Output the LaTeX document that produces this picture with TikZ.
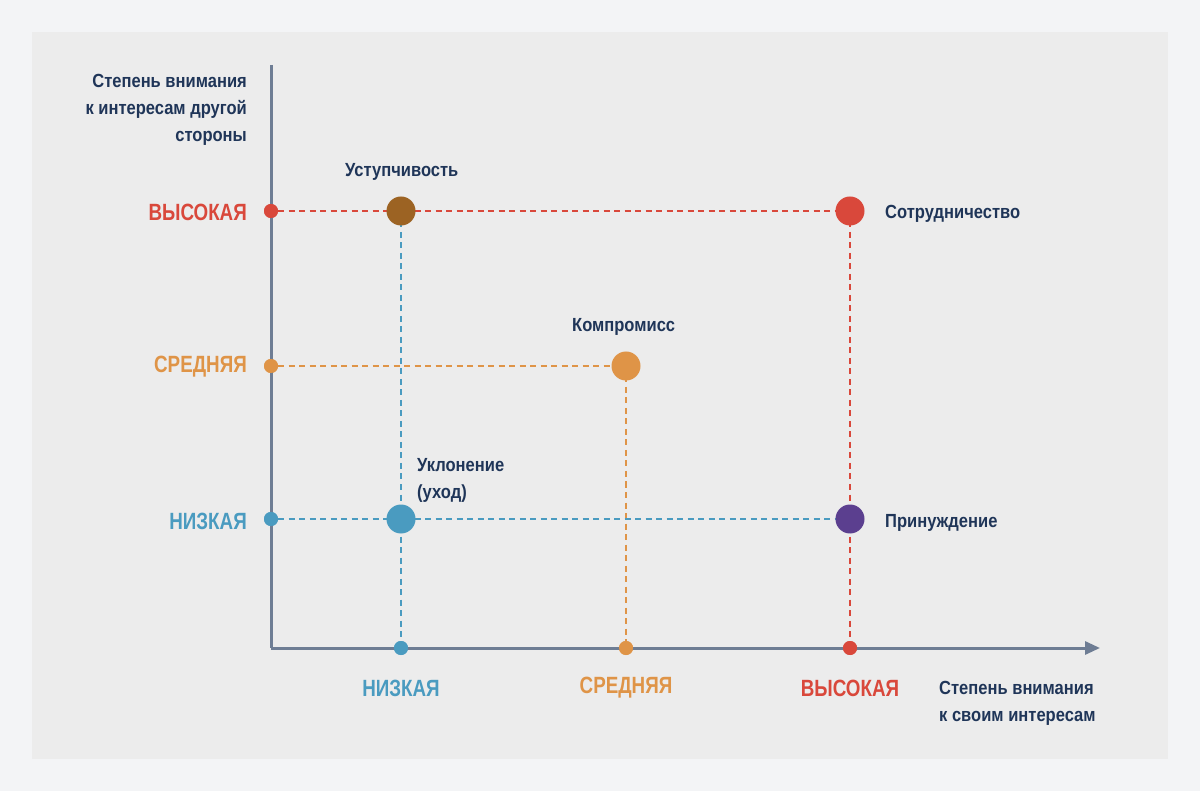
\documentclass[tikz,border=0pt]{standalone}
\usepackage{fontspec}
\setmainfont{Liberation Sans}[FakeStretch=0.87, BoldFont={Liberation Sans Bold}, BoldFeatures={FakeStretch=0.87}]
\newfontfamily\lvlfont{Liberation Sans}[FakeStretch=0.8, BoldFont={Liberation Sans Bold}, BoldFeatures={FakeStretch=0.8}]
\usetikzlibrary{arrows.meta}
\definecolor{bgout}{HTML}{F3F4F6}
\definecolor{panel}{HTML}{ECECEC}
\definecolor{cred}{HTML}{D9483B}
\definecolor{corange}{HTML}{DF9447}
\definecolor{cblue}{HTML}{4A9BC0}
\definecolor{cbrown}{HTML}{9C6323}
\definecolor{cpurple}{HTML}{5B3F8F}
\definecolor{navy}{HTML}{1F3558}
\definecolor{axisgray}{HTML}{6E7D94}
\tikzset{
  dot/.style={circle,fill=#1,inner sep=0pt,minimum size=14pt},
  bigdot/.style={circle,fill=#1,inner sep=0pt,minimum size=29pt},
  dline/.style={draw=#1,line width=1.8pt,dash pattern=on 6pt off 4.5pt},
  axisline/.style={draw=axisgray,line width=3pt},
  lvl/.style={text=#1,font=\lvlfont\fontsize{23.5}{26}\selectfont\bfseries,inner sep=0pt},
  lbl/.style={text=navy,font=\fontsize{19}{27}\selectfont\bfseries,inner sep=0pt,align=left},
}
\begin{document}
\begin{tikzpicture}[x=1pt,y=-1pt]
\fill[bgout] (0,0) rectangle (1200,791);
\fill[panel] (32,32) rectangle (1168,759);
\useasboundingbox (0,0) rectangle (1200,791);
% axes
\coordinate (ytop) at (271,65);
\coordinate (orig) at (271,648);
\coordinate (xend) at (1100,648);
% dots on axes
\node[dot=cred] (yhi) at (271,211) {};
\node[dot=corange] (ymid) at (271,366) {};
\node[dot=cblue] (ylo) at (271,519) {};
\node[dot=cblue] (xlo) at (401,648) {};
\node[dot=corange] (xmid) at (626,648) {};
\node[dot=cred] (xhi) at (850,648) {};
% big dots (positions)
\coordinate (pyield) at (401,211);
\coordinate (pcoop) at (850,211);
\coordinate (pcomp) at (626,366);
\coordinate (pavoid) at (401,519);
\coordinate (pforce) at (850,519);
% dashed lines
\draw[dline=cred] (yhi) -- (pcoop);
\draw[dline=cred] (pcoop) -- (xhi);
\draw[dline=cblue] (pyield) -- (xlo);
\draw[dline=corange] (ymid) -- (pcomp);
\draw[dline=corange] (pcomp) -- (xmid);
\draw[dline=cblue] (ylo) -- (pforce);
% axes
\draw[axisline] (ytop) -- (orig);
\draw[axisline,-{Triangle[length=15pt,width=13pt]}] (orig) -- (xend);
% redraw axis dots on top
\node[dot=cred] at (yhi) {};
\node[dot=corange] at (ymid) {};
\node[dot=cblue] at (ylo) {};
\node[dot=cblue] at (xlo) {};
\node[dot=corange] at (xmid) {};
\node[dot=cred] at (xhi) {};
% big dots
\node[bigdot=cbrown] (yield) at (pyield) {};
\node[bigdot=cred] (coop) at (pcoop) {};
\node[bigdot=corange] (comp) at (pcomp) {};
\node[bigdot=cblue] (avoid) at (pavoid) {};
\node[bigdot=cpurple] (force) at (pforce) {};
% level labels
\node[lvl=cred,anchor=east] (lyhi) at (247,212) {ВЫСОКАЯ};
\node[lvl=corange,anchor=east] (lymid) at (247,367) {СРЕДНЯЯ};
\node[lvl=cblue,anchor=east] (lylo) at (247,521) {НИЗКАЯ};
\node[lvl=cblue] (lxlo) at (401,688) {НИЗКАЯ};
\node[lvl=corange] (lxmid) at (626,688) {СРЕДНЯЯ};
\node[lvl=cred] (lxhi) at (850,688) {ВЫСОКАЯ};
% axis titles
\node[lbl,align=right,anchor=north east] (ytitle) at (247,74) {Степень внимания\\к интересам другой\\стороны};
\node[lbl,anchor=north west] (xtitle) at (939,681) {Степень внимания\\к своим интересам};
% style labels
\node[lbl,anchor=west] (tyield) at (345,172) {Уступчивость};
\node[lbl,anchor=west] (tcoop) at (885,214) {Сотрудничество};
\node[lbl,anchor=west] (tcomp) at (572,327) {Компромисс};
\node[lbl,anchor=north west] (tavoid) at (417,458) {Уклонение\\(уход)};
\node[lbl,anchor=west] (tforce) at (885,523) {Принуждение};
\end{tikzpicture}
\end{document}
